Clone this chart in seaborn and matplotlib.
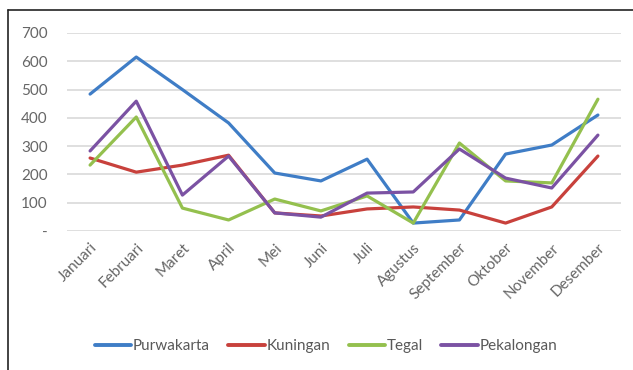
import matplotlib
matplotlib.use("Agg")
import matplotlib.pyplot as plt
from matplotlib.lines import Line2D
import pandas as pd
import seaborn as sns

months = ["Januari", "Februari", "Maret", "April", "Mei", "Juni", "Juli",
          "Agustus", "September", "Oktober", "November", "Desember"]
purwakarta = [484, 615, 500, 382, 205, 177, 254, 28, 39, 272, 304, 410]
kuningan = [258, 208, 233, 268, 64, 53, 78, 85, 74, 28, 85, 265]
tegal = [233, 403, 81, 39, 113, 71, 124, 28, 311, 177, 170, 466]
pekalongan = [283, 459, 127, 265, 64, 49, 134, 138, 290, 187, 152, 339]
series_names = ["Purwakarta", "Kuningan", "Tegal", "Pekalongan"]
y_ticks = [0, 100, 200, 300, 400, 500, 600, 700]
y_tick_labels = ["-", "100", "200", "300", "400", "500", "600", "700"]

colors = ["#3F7DC6", "#C8413C", "#94C04E", "#7B52A3"]

df = pd.DataFrame({"Bulan": months, "Purwakarta": purwakarta, "Kuningan": kuningan,
                   "Tegal": tegal, "Pekalongan": pekalongan})
long = df.melt(id_vars="Bulan", var_name="Kota", value_name="Nilai")
long["idx"] = long["Bulan"].map({m: i for i, m in enumerate(months)})

sns.set_theme(style="white")
plt.rcParams["font.family"] = ["Lato", "DejaVu Sans"]

fig = plt.figure(figsize=(6.33, 3.70), dpi=100)
ax = fig.add_axes([67 / 633, 1 - 231 / 370, (621 - 67) / 633, (231 - 33) / 370])

sns.lineplot(data=long, x="idx", y="Nilai", hue="Kota", hue_order=series_names,
             palette=colors, linewidth=2.3, ax=ax, legend=False, zorder=3)

ax.set_xlim(-0.5, len(months) - 0.5)
ax.set_ylim(0, 700)
ax.set_yticks(y_ticks)
ax.set_yticklabels(y_tick_labels)
ax.set_xticks(range(len(months)))
ax.set_xticklabels(months, rotation=45, ha="right", rotation_mode="anchor")
ax.tick_params(axis="both", length=0, labelsize=11, colors="#666666")
ax.tick_params(axis="y", pad=14)
ax.tick_params(axis="x", pad=7)
ax.set_xlabel("")
ax.set_ylabel("")
ax.grid(axis="y", color="#D9D9D9", linewidth=1.2, zorder=0)
for s in ax.spines.values():
    s.set_visible(False)

handles = [Line2D([0], [0], color=c, linewidth=2.8) for c in colors]
fig.legend(handles, series_names, loc="center", bbox_to_anchor=(0.515, 1 - 346 / 370),
           ncol=4, frameon=False, fontsize=11, handlelength=2.4, handletextpad=0.1,
           columnspacing=1.2, labelcolor="#595959")

# outer frame: top and left edges
fig.add_artist(Line2D([8 / 633, 1], [1 - 10 / 370, 1 - 10 / 370], color="#222222",
                      linewidth=1.2, transform=fig.transFigure))
fig.add_artist(Line2D([8 / 633, 8 / 633], [0, 1 - 10 / 370], color="#222222",
                      linewidth=1.2, transform=fig.transFigure))

fig.savefig("out.png", dpi=100, facecolor="white")
